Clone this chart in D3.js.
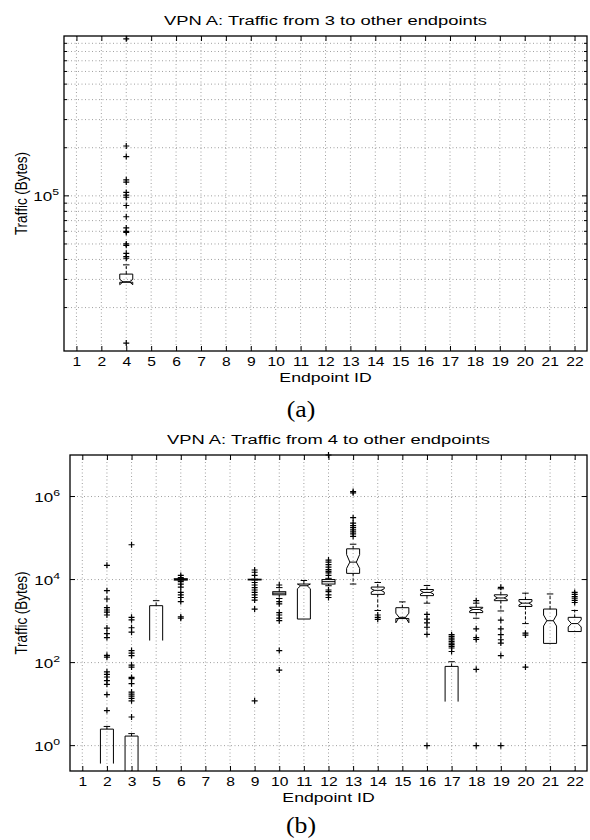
<!DOCTYPE html>
<html>
<head>
<meta charset="utf-8">
<script src="https://cdn.jsdelivr.net/npm/d3@7"></script>
<style>
body { margin: 0; background: #fff; }
svg { display: block; }
.grid line { stroke: #777; stroke-width: 0.7; stroke-dasharray: 1,2.5; }
</style>
</head>
<body>
<svg id="fig" width="590" height="840"></svg>
<script>
// ---- panel (a): traffic from 3 ----
var idsA = [1,2,4,5,6,7,8,9,10,11,12,13,14,15,16,17,18,19,20,21,22];
var boxIdsA = [4];
var q1A = [28800];
var medA = [29000];
var q3A = [32400];
var notchLoA = [27800];
var notchHiA = [30000];
var whiskLoA = [null];
var whiskHiA = [37000];
var outliersA = [[960000, 205000, 176000, 126000, 122000, 105000, 101000, 98000, 87000, 74000,
                  63000, 60000, 59000, 50000, 49000, 43700, 41700, 40700, 12000]];
var openA = [];
var gridA = [2e4,3e4,4e4,5e4,6e4,7e4,8e4,9e4,1e5,2e5,3e5,4e5,5e5,6e5,7e5,8e5,9e5];
var labelsA = [1e5];

// ---- panel (b): traffic from 4 ----
var idsB = [1,2,3,5,6,7,8,9,10,11,12,13,14,15,16,17,18,19,20,21,22];
var boxIdsB = [2,3,5,6,9,10,11,12,13,14,15,16,17,18,19,20,21,22];
var q1B      = [0.37, 0.1, 340, 9700, 9800, 4300, 1120, 7800, 14100, 4400, 1150, 4100, 11.5, 1600, 3100, 2250, 290, 560];
var medB     = [null, null, null, 10000, 10000, 4700, 7100, 8900, 26300, 5500, 1230, 4900, null, 1900, 3600, 2700, 1020, 870];
var q3B      = [2.5, 1.7, 2350, 10500, 10200, 5100, 7800, 10000, 55000, 6600, 2100, 5750, 81, 2150, 4300, 3300, 1950, 1230];
var notchLoB = [null, null, null, null, null, null, 6000, null, 18600, 5000, 910, 4500, null, 1750, 3300, 2450, 760, 720];
var notchHiB = [null, null, null, null, null, null, 7800, null, 40000, 6000, 1550, 5400, null, 2050, 4000, 2950, 1400, 1070];
var whiskLoB = [null, null, null, 9700, 9800, 3500, null, 7100, 7800, 1800, null, 2700, null, 1170, 1750, 870, null, null];
var whiskHiB = [2.9, 1.95, 3100, 10500, 10200, 6400, 9500, 10700, 71000, 8500, 2900, 7200, 105, 2700, 6000, 4700, 4500, 1800];
var outliersB = [
  [22000,5400,3400,2100,1850,1650,1400,680,500,400,150,135,60,52,45,37,30,17,7],
  [69000,1230,1070,690,540,195,170,148,87,78,44,41,31,19.5,17.4,15.5,13.8,12,4.9],
  [],
  [12600,11200,8900,7800,6600,4900,4300,3700,2950,1260,1170],
  [17000,15000,12600,8500,7400,6400,5600,4900,4300,3700,3200,1950,12],
  [7400,2950,2600,1600,1400,1180,1020,195,66],
  [],
  [1e7,29500,26300,23000,20000,17400,15800,14500,12600,5600,5100,4300,3700],
  [1320000,1230000,309000,229000,200000,178000,158000,141000,126000,110000],
  [1400,1230,1100],
  [],
  [1450,1120,910,710,480,1],
  [470,430,390,355,325,295,270,245,225,185],
  [3100,650,400,360,69,1],
  [6500,1050,650,470,355,295,148,1],
  [510,460,78],
  [],
  [4900,4400,3900,3550,3150,2800]
];
var openB = [2,3,5,17];
var gridB = [1,1e2,1e4,1e6];
var labelsB = [1,1e2,1e4,1e6];

var svg = d3.select('#fig');
var SX = 1.36;      // the figure is stretched sideways
var TICK_SX = 1.25;
var SANS = "'Liberation Sans', Arial, Helvetica, sans-serif";
var SERIF = "'Liberation Serif', 'Times New Roman', serif";

function stext(parent, x, y, str, size, anchor, sx, family) {
    return parent.append('text')
        .attr('transform', 'translate(' + x + ',' + y + ') scale(' + sx + ',1)')
        .attr('text-anchor', anchor)
        .attr('font-size', size)
        .attr('font-family', family)
        .attr('fill', '#000')
        .text(str);
}

function drawPanel(p) {
    var g = svg.append('g');

    var x = d3.scalePoint().domain(p.ids).range([p.left, p.right]).padding(0.5);
    var y = d3.scaleLog().domain(p.yDomain).range([p.bottom, p.top]);

    var clipId = 'clip' + p.name;
    svg.append('clipPath').attr('id', clipId)
        .append('rect')
        .attr('x', p.left).attr('y', p.top)
        .attr('width', p.right - p.left).attr('height', p.bottom - p.top);

    //grid
    var grid = g.append('g').attr('class', 'grid');
    grid.selectAll('line.v').data(p.ids).enter().append('line')
        .attr('class', 'v')
        .attr('x1', function (d) { return x(d); })
        .attr('x2', function (d) { return x(d); })
        .attr('y1', p.top).attr('y2', p.bottom);
    grid.selectAll('line.h').data(p.grid).enter().append('line')
        .attr('class', 'h')
        .attr('x1', p.left).attr('x2', p.right)
        .attr('y1', function (d) { return y(d); })
        .attr('y2', function (d) { return y(d); });

    //x axes (inward ticks)
    var xb = g.append('g').attr('transform', 'translate(0,' + p.bottom + ')')
        .call(d3.axisBottom(x).tickSize(-5).tickPadding(p.tickPad));
    xb.select('.domain').remove();
    xb.selectAll('line').attr('stroke', '#000');
    xb.selectAll('text')
        .attr('font-size', 12.5)
        .attr('font-family', SANS)
        .attr('fill', '#000')
        .attr('transform', 'scale(' + TICK_SX + ',1)');

    var xt = g.append('g').attr('transform', 'translate(0,' + p.top + ')')
        .call(d3.axisTop(x).tickSize(-5).tickFormat(''));
    xt.select('.domain').remove();
    xt.selectAll('line').attr('stroke', '#000');

    //y ticks, both sides
    var yt = g.append('g');
    p.grid.forEach(function (v) {
        var len = p.labels.indexOf(v) >= 0 ? 5 : 3;
        yt.append('line').attr('x1', p.left).attr('x2', p.left + len)
            .attr('y1', y(v)).attr('y2', y(v)).attr('stroke', '#000');
        yt.append('line').attr('x1', p.right).attr('x2', p.right - len)
            .attr('y1', y(v)).attr('y2', y(v)).attr('stroke', '#000');
    });
    p.labels.forEach(function (v) {
        var t = yt.append('text')
            .attr('transform', 'translate(' + p.labelX + ',' + (y(v) + 5) + ') scale(' + SX + ',1)')
            .attr('text-anchor', 'end')
            .attr('font-family', SANS)
            .attr('font-size', 12.5)
            .attr('fill', '#000');
        t.append('tspan').text('10');
        t.append('tspan').attr('font-size', 9).attr('dy', -6).text(Math.round(Math.log10(v)));
    });

    //boxes
    var bg = g.append('g').attr('fill', 'none').attr('stroke', '#000').attr('stroke-width', 1);
    var hw = 6.5, nw = 3.25, cw = 3.25;
    p.boxIds.forEach(function (id, i) {
        var cx = x(id), L = cx - hw, R = cx + hw;
        var q1 = p.q1[i], q3 = p.q3[i], med = p.med[i];
        var nLo = p.notchLo[i], nHi = p.notchHi[i];

        if (p.open.indexOf(id) >= 0) {
            bg.append('path')
                .attr('clip-path', 'url(#' + clipId + ')')
                .attr('d', 'M' + L + ',' + y(q1) + 'V' + y(q3) + 'H' + R + 'V' + y(q1));
        } else if (nLo !== null) {
            var pts = [[L, y(q1)], [L, y(nLo)], [L + nw, y(med)], [L, y(nHi)], [L, y(q3)],
                       [R, y(q3)], [R, y(nHi)], [R - nw, y(med)], [R, y(nLo)], [R, y(q1)]];
            bg.append('path').attr('d', d3.line()(pts) + 'Z');
            bg.append('line').attr('x1', L + nw).attr('x2', R - nw)
                .attr('y1', y(med)).attr('y2', y(med));
        } else {
            bg.append('rect').attr('x', L).attr('width', R - L)
                .attr('y', y(q3)).attr('height', Math.max(y(q1) - y(q3), 0.5));
            if (med !== null) {
                bg.append('line').attr('x1', L).attr('x2', R)
                    .attr('y1', y(med)).attr('y2', y(med));
            }
        }

        var wHi = p.whiskHi[i], wLo = p.whiskLo[i];
        if (wHi !== null) {
            bg.append('line').attr('x1', cx).attr('x2', cx)
                .attr('y1', y(q3)).attr('y2', y(wHi)).attr('stroke-dasharray', '3,2');
            bg.append('line').attr('x1', cx - cw).attr('x2', cx + cw)
                .attr('y1', y(wHi)).attr('y2', y(wHi));
        }
        if (wLo !== null) {
            bg.append('line').attr('x1', cx).attr('x2', cx)
                .attr('y1', y(q1)).attr('y2', y(wLo)).attr('stroke-dasharray', '3,2');
            bg.append('line').attr('x1', cx - cw).attr('x2', cx + cw)
                .attr('y1', y(wLo)).attr('y2', y(wLo));
        }

        bg.selectAll(null).data(p.out[i]).enter().append('path')
            .attr('stroke-width', 1.2)
            .attr('d', function (v) {
                var yy = y(v);
                return 'M' + (cx - 3) + ',' + yy + 'H' + (cx + 3) + 'M' + cx + ',' + (yy - 3) + 'V' + (yy + 3);
            });
    });

    //frame
    g.append('rect')
        .attr('x', p.left).attr('y', p.top)
        .attr('width', p.right - p.left).attr('height', p.bottom - p.top)
        .attr('fill', 'none').attr('stroke', '#000').attr('stroke-width', 1.3);

    //texts
    var cxm = (p.left + p.right) / 2;
    stext(g, cxm, p.top - 11, p.title, 13.5, 'middle', SX, SANS);
    stext(g, cxm, p.xLabelY, 'Endpoint ID', 13, 'middle', SX, SANS);
    g.append('text')
        .attr('transform', 'translate(27,' + ((p.top + p.bottom) / 2) + ') scale(1.2,1) rotate(-90)')
        .attr('text-anchor', 'middle')
        .attr('font-size', 13.5)
        .attr('font-family', SANS)
        .text('Traffic (Bytes)');
    stext(g, 301, p.capY, p.caption, 23, 'middle', 1.12, SERIF);
}

drawPanel({
    name: 'A', ids: idsA, boxIds: boxIdsA,
    q1: q1A, med: medA, q3: q3A, notchLo: notchLoA, notchHi: notchHiA,
    whiskLo: whiskLoA, whiskHi: whiskHiA, out: outliersA, open: openA,
    grid: gridA, labels: labelsA,
    yDomain: [10700, 1e6],
    left: 64, right: 587, top: 36, bottom: 351,
    tickPad: 6, labelX: 59, xLabelY: 382, capY: 417,
    title: 'VPN A: Traffic from 3 to other endpoints', caption: '(a)'
});

drawPanel({
    name: 'B', ids: idsB, boxIds: boxIdsB,
    q1: q1B, med: medB, q3: q3B, notchLo: notchLoB, notchHi: notchHiB,
    whiskLo: whiskLoB, whiskHi: whiskHiB, out: outliersB, open: openB,
    grid: gridB, labels: labelsB,
    yDomain: [0.245, 1e7],
    left: 70, right: 587, top: 455, bottom: 771,
    tickPad: 6, labelX: 60, xLabelY: 802, capY: 833,
    title: 'VPN A: Traffic from 4 to other endpoints', caption: '(b)'
});
</script>
</body>
</html>
